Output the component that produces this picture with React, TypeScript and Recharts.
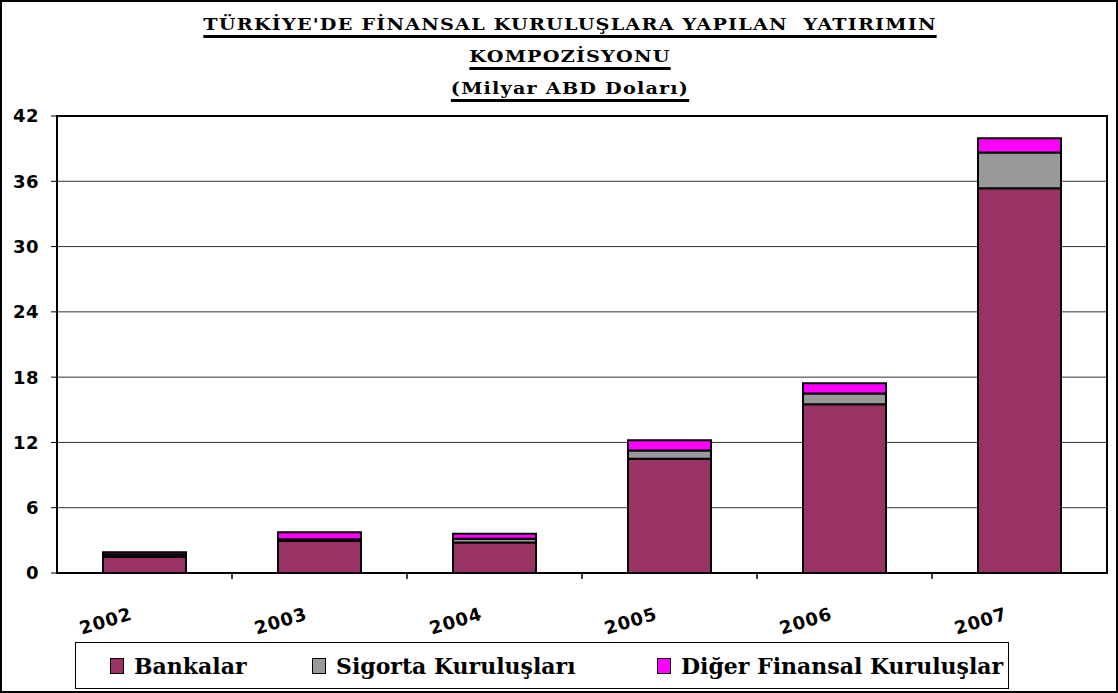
import React from "react";
import { BarChart, Bar, XAxis, YAxis, CartesianGrid, ReferenceArea } from "recharts";

const years = ["2002", "2003", "2004", "2005", "2006", "2007"];
const bankalar = [1.5, 2.95, 2.8, 10.5, 15.5, 35.35];
const sigorta = [0.2, 0.15, 0.35, 0.75, 1.0, 3.3];
const diger = [0.2, 0.65, 0.45, 0.95, 0.95, 1.3];
const yTicks = [0, 6, 12, 18, 24, 30, 36, 42];

const titleLines = ["TÜRKİYE'DE FİNANSAL KURULUŞLARA YAPILAN  YATIRIMIN", "KOMPOZİSYONU", "(Milyar ABD Doları)"];
const seriesNames = ["Bankalar", "Sigorta Kuruluşları", "Diğer Finansal Kuruluşlar"];
const colors = ["#993366", "#999999", "#FF00FF"];

const data = years.map((y, i) => ({
  year: y,
  bankalar: bankalar[i],
  sigorta: sigorta[i],
  diger: diger[i],
}));

const SERIF = "'DejaVu Serif', serif";
const SANS = "'DejaVu Sans', sans-serif";
const BAND = 175;

const XTick = (props: any) => {
  const { x, y, payload, index } = props;
  return (
    <g>
      {index < years.length - 1 && (
        <line x1={x + BAND / 2} x2={x + BAND / 2} y1={y} y2={y + 6} stroke="#000" strokeWidth={1.5} />
      )}
      <text
        transform={`translate(${x - 11},${y + 46}) rotate(-17)`}
        textAnchor="end"
        fontFamily={SANS}
        fontWeight="bold"
        fontSize={18}
        letterSpacing={1}
        fill="#000"
      >
        {payload.value}
      </text>
    </g>
  );
};

export default function App() {
  const titleLine: React.CSSProperties = {
    fontFamily: SERIF,
    fontWeight: "bold",
    fontSize: 16,
    letterSpacing: 1,
    textDecoration: "underline",
    textDecorationThickness: 2.5,
    textUnderlineOffset: 5,
    color: "#000",
    lineHeight: "32px",
    whiteSpace: "pre",
    transform: "scaleX(1.2)",
  };
  return (
    <div
      style={{
        position: "absolute",
        left: 0,
        top: 0,
        width: 1118,
        height: 693,
        background: "#fff",
        boxSizing: "border-box",
        border: "2px solid #000",
        overflow: "hidden",
      }}
    >
      <div style={{ position: "absolute", left: 0, top: 7, width: 1136, textAlign: "center" }}>
        {titleLines.map((t) => (
          <div key={t} style={titleLine}>
            {t}
          </div>
        ))}
      </div>
      <div style={{ position: "absolute", left: -2, top: -2 }}>
        <BarChart
          width={1118}
          height={693}
          data={data}
          margin={{ top: 116, right: 11, left: 0, bottom: 50 }}
          barSize={83}
        >
          <CartesianGrid vertical={false} stroke="#333" strokeWidth={1} />
          <XAxis
            dataKey="year"
            height={70}
            axisLine={{ stroke: "#000", strokeWidth: 2 }}
            tickLine={false}
            tickSize={0}
            tickMargin={0}
            interval={0}
            tick={<XTick />}
          />
          <YAxis
            width={57}
            domain={[0, 42]}
            ticks={yTicks}
            interval={0}
            axisLine={{ stroke: "#000", strokeWidth: 2 }}
            tickLine={{ stroke: "#000", strokeWidth: 1 }}
            tickSize={6}
            tickMargin={12}
            tick={{ fontFamily: SANS, fontWeight: "bold", fontSize: 18, fill: "#000", letterSpacing: 0.5 }}
          />
          <ReferenceArea y1={0} y2={42} fill="none" stroke="#000" strokeWidth={2} ifOverflow="visible" />
          <Bar dataKey="bankalar" stackId="a" fill={colors[0]} stroke="#000" strokeWidth={2} isAnimationActive={false} />
          <Bar dataKey="sigorta" stackId="a" fill={colors[1]} stroke="#000" strokeWidth={2} isAnimationActive={false} />
          <Bar dataKey="diger" stackId="a" fill={colors[2]} stroke="#000" strokeWidth={2} isAnimationActive={false} />
        </BarChart>
      </div>
      <div
        style={{
          position: "absolute",
          left: 73,
          top: 640,
          width: 934,
          height: 47,
          boxSizing: "border-box",
          border: "1.5px solid #000",
          fontFamily: SERIF,
          fontWeight: "bold",
          fontSize: 22,
          color: "#000",
        }}
      >
        {seriesNames.map((n, i) => (
          <div
            key={n}
            style={{
              position: "absolute",
              left: [34, 236, 581][i],
              top: 10,
              height: 26,
              lineHeight: "26px",
              display: "flex",
              alignItems: "center",
              whiteSpace: "pre",
            }}
          >
            <span
              style={{
                display: "inline-block",
                boxSizing: "border-box",
                width: 14,
                height: 16,
                background: colors[i],
                border: "1.5px solid #000",
                marginRight: 10,
              }}
            />
            {n}
          </div>
        ))}
      </div>
    </div>
  );
}
